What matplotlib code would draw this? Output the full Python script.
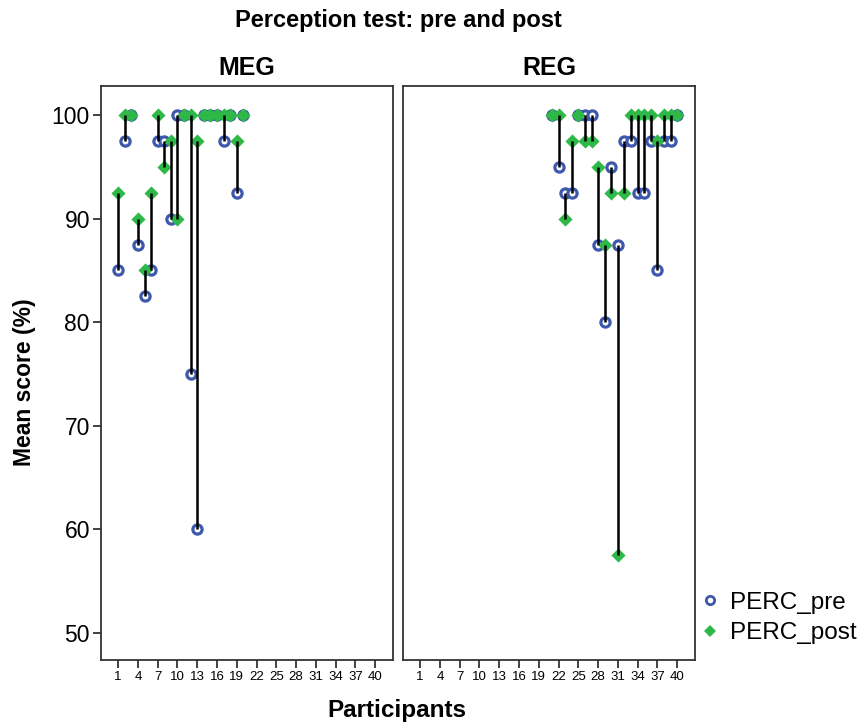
import numpy as np
import matplotlib
matplotlib.use("Agg")
from matplotlib import pyplot as plt
from matplotlib.lines import Line2D

plt.rcParams['font.family'] = ['Liberation Sans', 'DejaVu Sans']

# MEG group: participants 1-20
meg_id = list(range(1, 21))
meg_pre = [85, 97.5, 100, 87.5, 82.5, 85, 97.5, 97.5, 90, 100,
           100, 75, 60, 100, 100, 100, 97.5, 100, 92.5, 100]
meg_post = [92.5, 100, 100, 90, 85, 92.5, 100, 95, 97.5, 90,
            100, 100, 97.5, 100, 100, 100, 100, 100, 97.5, 100]

# REG group: participants 21-40
reg_id = list(range(21, 41))
reg_pre = [100, 95, 92.5, 92.5, 100, 100, 100, 87.5, 80, 95,
           87.5, 97.5, 97.5, 92.5, 92.5, 97.5, 85, 97.5, 97.5, 100]
reg_post = [100, 100, 90, 97.5, 100, 97.5, 97.5, 95, 87.5, 92.5,
            57.5, 92.5, 100, 100, 100, 100, 97.5, 100, 100, 100]

x_ticks = list(range(1, 41, 3))
y_ticks = [50, 60, 70, 80, 90, 100]

blue = '#3e58ac'
green = '#2eb848'
spine_c = '#333333'

W, H = 864, 728
fig = plt.figure(figsize=(W / 100, H / 100), dpi=100)

panels = [('MEG', meg_id, meg_pre, meg_post, 101),
          ('REG', reg_id, reg_pre, reg_post, 403)]

axes = []
for name, ids, pre, post, left in panels:
    ax = fig.add_axes([left / W, 1 - 660 / H, 292 / W, 574 / H])
    # connecting line drawn over the markers, like the original
    ax.vlines(ids, pre, post, colors='black', lw=1.8, zorder=3)
    ax.scatter(ids, pre, s=44, facecolors='white', edgecolors=blue,
               linewidths=2.3, marker='o', zorder=2)
    ax.scatter(ids, post, s=52, c=green, marker='D', linewidths=0, zorder=2.5)
    ax.set_xlim(-1.6, 42.7)
    ax.set_ylim(47.4, 102.8)
    ax.set_xticks(x_ticks)
    ax.set_yticks(y_ticks)
    ax.tick_params(axis='x', labelsize=9.5, length=6, width=1.3,
                   color=spine_c, pad=2)
    ax.tick_params(axis='y', labelsize=16.5, length=6, width=1.3,
                   color=spine_c, pad=2)
    for sp in ax.spines.values():
        sp.set_color(spine_c)
        sp.set_linewidth(1.3)
    ax.set_title(name, fontsize=18, fontweight='bold', pad=8)
    axes.append(ax)

axes[1].tick_params(axis='y', left=False, labelleft=False)

fig.text(398 / W, 1 - 20 / H, 'Perception test: pre and post',
         ha='center', va='center', fontsize=17, fontweight='bold')
fig.text(25 / W, 1 - 382 / H, 'Mean score (%)', rotation=90,
         ha='center', va='center', fontsize=16.5, fontweight='bold')
fig.text(397 / W, 1 - 711 / H, 'Participants',
         ha='center', va='center', fontsize=17.5, fontweight='bold')

handles = [Line2D([], [], ls='none', marker='o', ms=6, mfc='white',
                  mec=blue, mew=2, label='PERC_pre'),
           Line2D([], [], ls='none', marker='D', ms=6, mfc=green,
                  mec=green, mew=0, label='PERC_post')]
fig.legend(handles=handles, loc='center left',
           bbox_to_anchor=(700 / W, 1 - 618 / H), frameon=False,
           fontsize=17.5, handlelength=0.8, handletextpad=0.45,
           labelspacing=0.35, borderpad=0, borderaxespad=0)

fig.savefig('out.png', dpi=100)
